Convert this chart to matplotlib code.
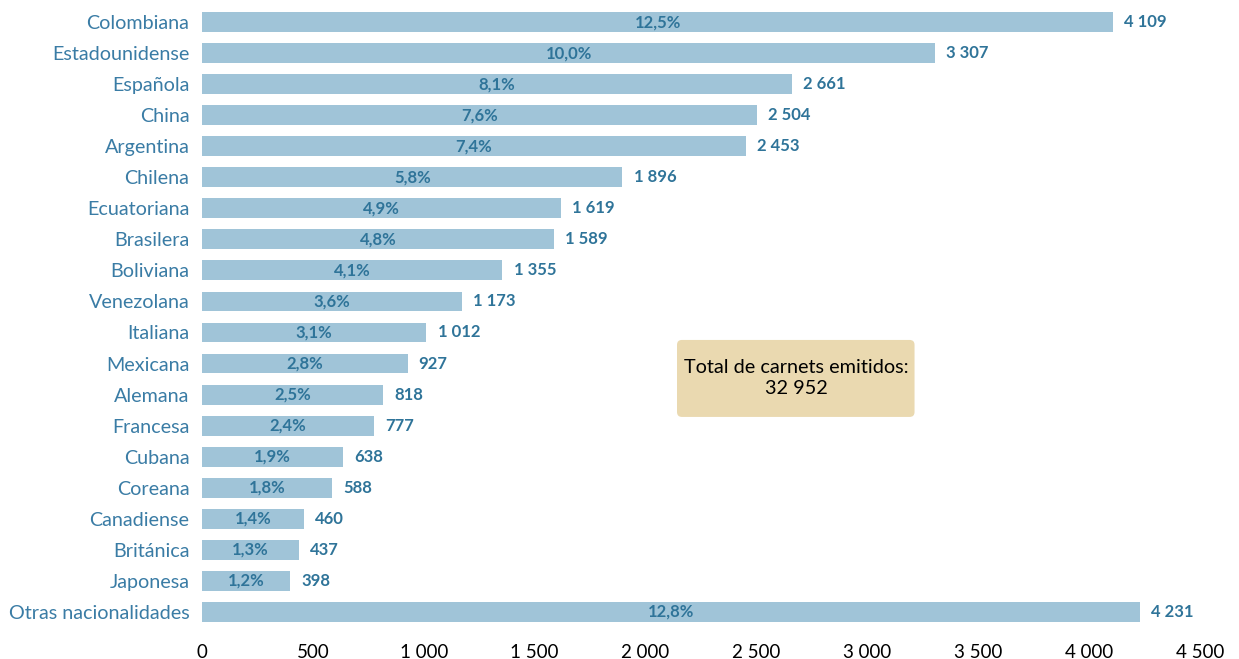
import matplotlib
matplotlib.use("Agg")
from matplotlib import pyplot
from matplotlib.patches import FancyBboxPatch
from matplotlib.ticker import FuncFormatter

nationalities = ["Colombiana", "Estadounidense", "Española", "China", "Argentina",
                 "Chilena", "Ecuatoriana", "Brasilera", "Boliviana", "Venezolana",
                 "Italiana", "Mexicana", "Alemana", "Francesa", "Cubana", "Coreana",
                 "Canadiense", "Británica", "Japonesa", "Otras nacionalidades"]
carnets = [4109, 3307, 2661, 2504, 2453, 1896, 1619, 1589, 1355, 1173,
           1012, 927, 818, 777, 638, 588, 460, 437, 398, 4231]
percentages = ["12,5%", "10,0%", "8,1%", "7,6%", "7,4%", "5,8%", "4,9%", "4,8%",
               "4,1%", "3,6%", "3,1%", "2,8%", "2,5%", "2,4%", "1,9%", "1,8%",
               "1,4%", "1,3%", "1,2%", "12,8%"]
total_text = "Total de carnets emitidos:\n32 952"

bar_color = "#a0c4d8"
label_color = "#3a7ca5"
value_color = "#2f7499"

pyplot.rcParams["font.family"] = ["Lato", "DejaVu Sans"]

figure = pyplot.figure(figsize=(12.39, 6.59), dpi=100)
axes = figure.add_axes([0.163, 0.048, 0.8055, 0.942])

ind = list(range(len(nationalities)))
bars = axes.barh(ind, carnets, height=0.64, color=bar_color)

for i, (value, pct) in enumerate(zip(carnets, percentages)):
    axes.text(value / 2, i, pct, ha="center", va="center", fontsize=12,
              fontweight="bold", color=value_color)
    axes.annotate(f"{value:,}".replace(",", " "), (value, i), xytext=(8, 0),
                  textcoords="offset points", ha="left", va="center",
                  fontsize=12, fontweight="bold", color=value_color)

axes.set_ylim(len(nationalities) - 0.5, -0.5)
axes.set_xlim(0, 4500)
axes.set_yticks(ind)
axes.set_yticklabels(nationalities, fontsize=14.2, color=label_color)
axes.set_xticks(range(0, 4501, 500))
axes.xaxis.set_major_formatter(FuncFormatter(lambda v, p: f"{int(v):,}".replace(",", " ")))
axes.tick_params(axis="x", labelsize=13.5, length=0, pad=12)
axes.tick_params(axis="y", length=0, pad=9)
for spine in axes.spines.values():
    spine.set_visible(False)

# total box (rounded, beige)
box = FancyBboxPatch((2142, 10.24), 1071, 2.48,
                     boxstyle="round,pad=0,rounding_size=22",
                     mutation_aspect=0.0072,
                     facecolor="#ead9b0", edgecolor="none", zorder=2)
axes.add_patch(box)
axes.text(2680, 11.47, total_text, ha="center", va="center", fontsize=14.3,
          color="black", linespacing=1.25, zorder=3)

figure.savefig("out.png")
